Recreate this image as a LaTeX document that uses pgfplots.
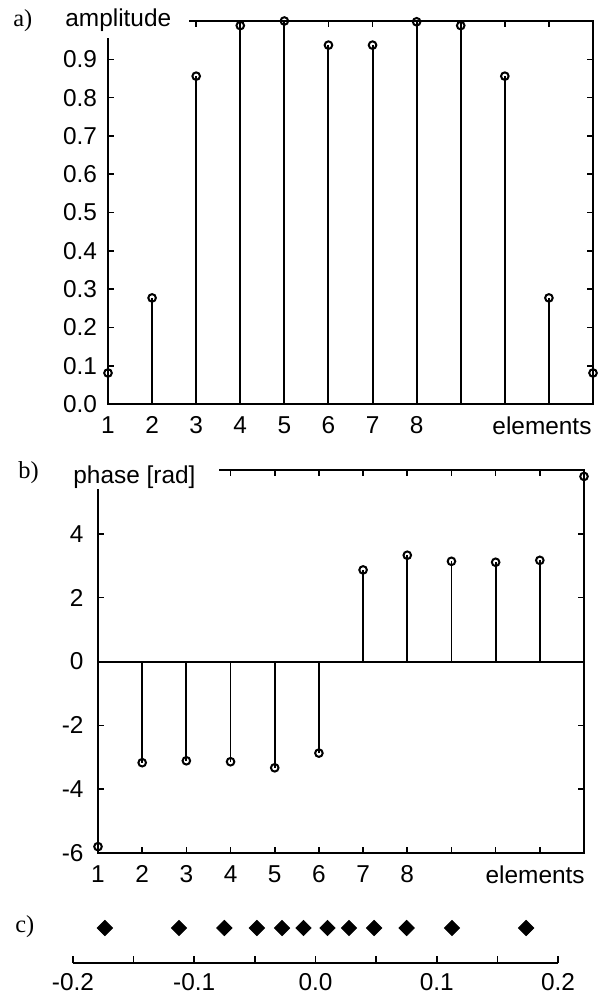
\documentclass[border=0pt]{standalone}
\usepackage{fontspec}
\setmainfont{Liberation Sans}
\newfontfamily\serifl{Liberation Serif}
\usepackage{pgfplots}
\pgfplotsset{compat=1.18}
\begin{document}
\fontsize{12.2}{14}\selectfont
\begin{tikzpicture}
\useasboundingbox (0,0) rectangle (299pt,-497.5pt);
\pgfplotsset{
  stemax/.style={
    scale only axis, width=242.5pt, height=191.5pt, clip=false,
    axis line style={line width=1pt},
    tick style={line width=0.8pt, black},
    major tick length=3pt,
    xmin=1, xmax=12, xtick={1,2,3,4,5,6,7,8,9,10,11,12},
    xticklabels={1,2,3,4,5,6,7,8,,,,},
    xticklabel style={yshift=-2.2pt},
    yticklabel style={xshift=-1.2pt},
  }
}
% ---------- a) amplitude
\begin{axis}[stemax, at={(54pt,-202pt)}, anchor=south west,
  ymin=0, ymax=1,
  ytick={0,0.1,0.2,0.3,0.4,0.5,0.6,0.7,0.8,0.9},
  yticklabels={0.0,0.1,0.2,0.3,0.4,0.5,0.6,0.7,0.8,0.9}]
\addplot[ycomb, line width=1pt, mark=o, mark size=1.9pt,
  mark options={fill=white, line width=1pt}] coordinates {
 (1,0.081) (2,0.277) (3,0.856) (4,0.988) (5,1.0) (6,0.937)
 (7,0.937) (8,0.998) (9,0.988) (10,0.856) (11,0.277) (12,0.081)};
\node[anchor=north east, xshift=3.5pt, yshift=-2.2pt] at (rel axis cs:1,0) {elements};
\end{axis}
% ---------- b) phase
\begin{axis}[stemax, at={(49pt,-426.5pt)}, anchor=south west,
  width=243pt,
  ymin=-6, ymax=6, ytick={-6,-4,-2,0,2,4},
  yticklabels={-6,-4,-2,0,2,4},
  yticklabel style={xshift=-1.8pt}]
\addplot[line width=1pt, no marks] coordinates {(1,0) (12,0)};
\addplot[ycomb, line width=0.9pt, mark=o, mark size=1.9pt,
  mark options={fill=white, line width=1pt}] coordinates {
 (1,-5.8) (2,-3.17) (3,-3.11) (4,-3.14) (5,-3.33) (6,-2.87)
 (7,2.87) (8,3.33) (9,3.14) (10,3.11) (11,3.17) (12,5.8)};
\node[anchor=north east, xshift=4.6pt, yshift=-2.2pt] at (rel axis cs:1,0) {elements};
\end{axis}
% ---------- c) positions
\begin{axis}[at={(36.5pt,-481.5pt)}, anchor=south west,
  scale only axis, width=242.5pt, height=20pt, clip=false,
  xmin=-0.2, xmax=0.2, ymin=0, ymax=1,
  axis x line*=bottom, axis y line=none,
  axis line style={-, line width=1pt},
  tick style={line width=0.8pt, black},
  xtick align=inside,
  major tick length=3.5pt, minor tick length=3.5pt,
  xtick={-0.2,-0.1,0,0.1,0.2},
  xticklabels={-0.2,-0.1,0.0,0.1,0.2},
  minor xtick={-0.15,-0.05,0.05,0.15},
  xticklabel style={yshift=-0.8pt}]
\addplot[only marks, mark=square*, mark size=2.7pt, mark options={rotate=45, fill=black}] coordinates {
 (-0.1737,0.875) (-0.1126,0.875) (-0.0752,0.875) (-0.0483,0.875) (-0.0276,0.875) (-0.0099,0.875)
 (0.0099,0.875) (0.0276,0.875) (0.0483,0.875) (0.0752,0.875) (0.1126,0.875) (0.1737,0.875)};
\end{axis}
% ---------- labels covering the corners
\fill[white] (50pt,-7pt) rectangle (94.5pt,-19pt);
\node[anchor=base west, inner sep=0pt] at (32.5pt,-13.5pt) {amplitude};
\node[anchor=base west, inner sep=0pt] at (6.5pt,-13.5pt) {\serifl a)};
\fill[white] (45pt,-230pt) rectangle (109.5pt,-244.5pt);
\node[anchor=base west, inner sep=0pt] at (36.5pt,-241.5pt) {phase [rad]};
\node[anchor=base west, inner sep=0pt] at (9pt,-239pt) {\serifl b)};
\node[anchor=base west, inner sep=0pt] at (7.5pt,-466pt) {\serifl c)};
\end{tikzpicture}
\end{document}
